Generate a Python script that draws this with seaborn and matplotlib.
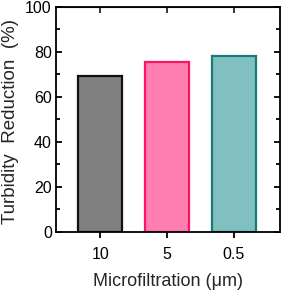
import matplotlib
matplotlib.use('Agg')
import matplotlib.pyplot as plt
import seaborn as sns
from matplotlib.ticker import MultipleLocator

# ── Data ──────────────────────────────────────────────────────────────────────
sizes = ['10', '5', '0.5']
reduction = [69.3, 75.7, 78.0]
fills = ['#808080', '#ff80b0', '#80c0c0']
edges = ['#111111', '#ff1464', '#1a7a7a']

sns.set_style('ticks')
plt.rcParams['font.family'] = ['Liberation Sans', 'DejaVu Sans']

fig, ax = plt.subplots(figsize=(2.83, 2.90), dpi=100)
sns.barplot(x=sizes, y=reduction, hue=sizes, palette=fills, width=0.66,
            saturation=1, legend=False, ax=ax)
for patch, ec in zip(ax.patches, edges):
    patch.set_edgecolor(ec)
    patch.set_linewidth(1.6)

ax.set_ylim(0, 100)
ax.set_xlim(-0.66, 2.69)
ax.yaxis.set_major_locator(MultipleLocator(20))
ax.yaxis.set_minor_locator(MultipleLocator(10))
ax.tick_params(axis='y', which='both', direction='in', right=True,
               labelsize=11.5, width=1.3, colors='black', pad=3)
ax.tick_params(axis='y', which='major', length=4.5)
ax.tick_params(axis='y', which='minor', length=3)
ax.tick_params(axis='x', direction='out', length=4, width=1.3,
               labelsize=11.5, pad=7, colors='black')
# top ticks point inward
sec = ax.secondary_xaxis('top')
sec.set_xticks(ax.get_xticks())
sec.tick_params(direction='in', length=4.5, width=1.3, labeltop=False)
for s in ax.spines.values():
    s.set_linewidth(1.3)
    s.set_color('black')

ax.set_xlabel('Microfiltration (μm)', fontsize=13, labelpad=8)
ax.set_ylabel('Turbidity  Reduction  (%)', fontsize=13.5)
ax.yaxis.set_label_coords(-0.165, 0.49)

fig.subplots_adjust(left=0.198, right=0.989, top=0.976, bottom=0.2)
fig.savefig('out.png', dpi=100)
